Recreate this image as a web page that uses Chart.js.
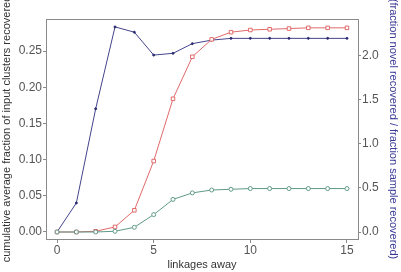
<!DOCTYPE html>
<html>
<head>
<meta charset="utf-8">
<script src="https://cdn.jsdelivr.net/npm/chart.js@4/dist/chart.umd.min.js"></script>
<style>
  html, body { margin: 0; padding: 0; background: #fff; }
  #wrap { width: 401px; height: 272px; }
</style>
</head>
<body>
<div id="wrap"><canvas id="lineChart"></canvas></div>
<script>
var linkages = [0, 1, 2, 3, 4, 5, 6, 7, 8, 9, 10, 11, 12, 13, 14, 15];
var ratio = [0.0, 0.33, 1.40, 2.33, 2.27, 2.01, 2.03, 2.14, 2.18, 2.20, 2.20, 2.20, 2.20, 2.20, 2.20, 2.20];
var novel = [0.0, 0.0, 0.001, 0.007, 0.030, 0.098, 0.184, 0.242, 0.266, 0.276, 0.279, 0.280, 0.281, 0.282, 0.282, 0.282];
var sample = [0.0, 0.0, 0.0, 0.001, 0.0065, 0.024, 0.045, 0.054, 0.058, 0.059, 0.060, 0.060, 0.060, 0.060, 0.060, 0.060];
var xTicks = [0, 5, 10, 15];
var leftTicks = [0, 0.05, 0.10, 0.15, 0.20, 0.25];
var rightTicks = [0, 0.5, 1.0, 1.5, 2.0];

function pts(ys) {
    return linkages.map(function (x, i) { return { x: x, y: ys[i] }; });
}

var frameBox = {
    id: 'frameBox',
    afterDraw: function (chart) {
        var a = chart.chartArea, c = chart.ctx;
        c.save();
        c.strokeStyle = '#8a8a8a';
        c.lineWidth = 1;
        c.strokeRect(Math.round(a.left) + 0.5, Math.round(a.top) + 0.5,
            Math.round(a.right - a.left), Math.round(a.bottom - a.top));
        c.restore();
    }
};

var tickFont = { family: 'Liberation Sans, Arial, sans-serif', size: 12 };
var titleFont = { family: 'Liberation Sans, Arial, sans-serif', size: 11 };

var ctx = document.getElementById('lineChart');
var myChart = new Chart(ctx, {
    type: 'line',
    data: {
        datasets: [{
            label: 'sample',
            data: pts(sample),
            yAxisID: 'y',
            borderColor: '#5f9a88',
            borderWidth: 1,
            pointStyle: 'circle',
            pointRadius: 2,
            pointBorderWidth: 1,
            pointBackgroundColor: '#ffffff',
            pointBorderColor: '#5f9a88',
            fill: false
        }, {
            label: 'novel',
            data: pts(novel),
            yAxisID: 'y',
            borderColor: '#e06a6a',
            borderWidth: 1,
            pointStyle: 'rect',
            pointRadius: 2.5,
            pointBorderWidth: 1,
            pointBackgroundColor: '#ffffff',
            pointBorderColor: '#e06a6a',
            fill: false
        }, {
            label: 'ratio',
            data: pts(ratio),
            yAxisID: 'y2',
            borderColor: '#44448c',
            borderWidth: 1,
            pointStyle: 'circle',
            pointRadius: 1,
            pointBorderWidth: 1,
            pointBackgroundColor: '#2a2a70',
            pointBorderColor: '#2a2a70',
            fill: false
        }]
    },
    options: {
        responsive: true,
        maintainAspectRatio: false,
        animation: false,
        layout: { padding: { top: 19, left: 0, right: 0, bottom: 0 } },
        plugins: { legend: { display: false }, tooltip: { enabled: false } },
        scales: {
            x: {
                type: 'linear',
                min: -0.57,
                max: 15.57,
                afterBuildTicks: function (s) { s.ticks = xTicks.map(function (v) { return { value: v }; }); },
                afterFit: function (s) { s.height = 33; },
                grid: { drawOnChartArea: false, drawTicks: true, tickLength: 4, color: '#8a8a8a' },
                border: { display: false },
                ticks: { color: '#555', font: tickFont, padding: 0, maxRotation: 0 },
                title: { display: true, text: 'linkages away', color: '#333', font: titleFont, padding: { top: 3, bottom: 0 } }
            },
            y: {
                position: 'left',
                min: -0.00967,
                max: 0.2942,
                afterBuildTicks: function (s) { s.ticks = leftTicks.map(function (v) { return { value: v }; }); },
                afterFit: function (s) { s.width = 46; },
                grid: { drawOnChartArea: false, drawTicks: true, tickLength: 3, color: '#8a8a8a' },
                border: { display: false },
                ticks: { color: '#555', font: tickFont, padding: 1, callback: function (v) { return v.toFixed(2); } },
                title: { display: true, text: 'cumulative average fraction of input clusters recovered', color: '#333', font: titleFont, padding: { top: 0, bottom: 0 } }
            },
            y2: {
                position: 'right',
                min: -0.0795,
                max: 2.42,
                afterBuildTicks: function (s) { s.ticks = rightTicks.map(function (v) { return { value: v }; }); },
                afterFit: function (s) { s.width = 43; },
                grid: { drawOnChartArea: false, drawTicks: true, tickLength: 3, color: '#8a8a8a' },
                border: { display: false },
                ticks: { color: '#555', font: tickFont, padding: 1, callback: function (v) { return v.toFixed(1); } },
                title: { display: true, text: '(fraction novel recovered / fraction sample recovered)', color: '#3a3a96', font: titleFont, padding: { top: 1, bottom: 0 } }
            }
        }
    },
    plugins: [frameBox]
});
</script>
</body>
</html>
